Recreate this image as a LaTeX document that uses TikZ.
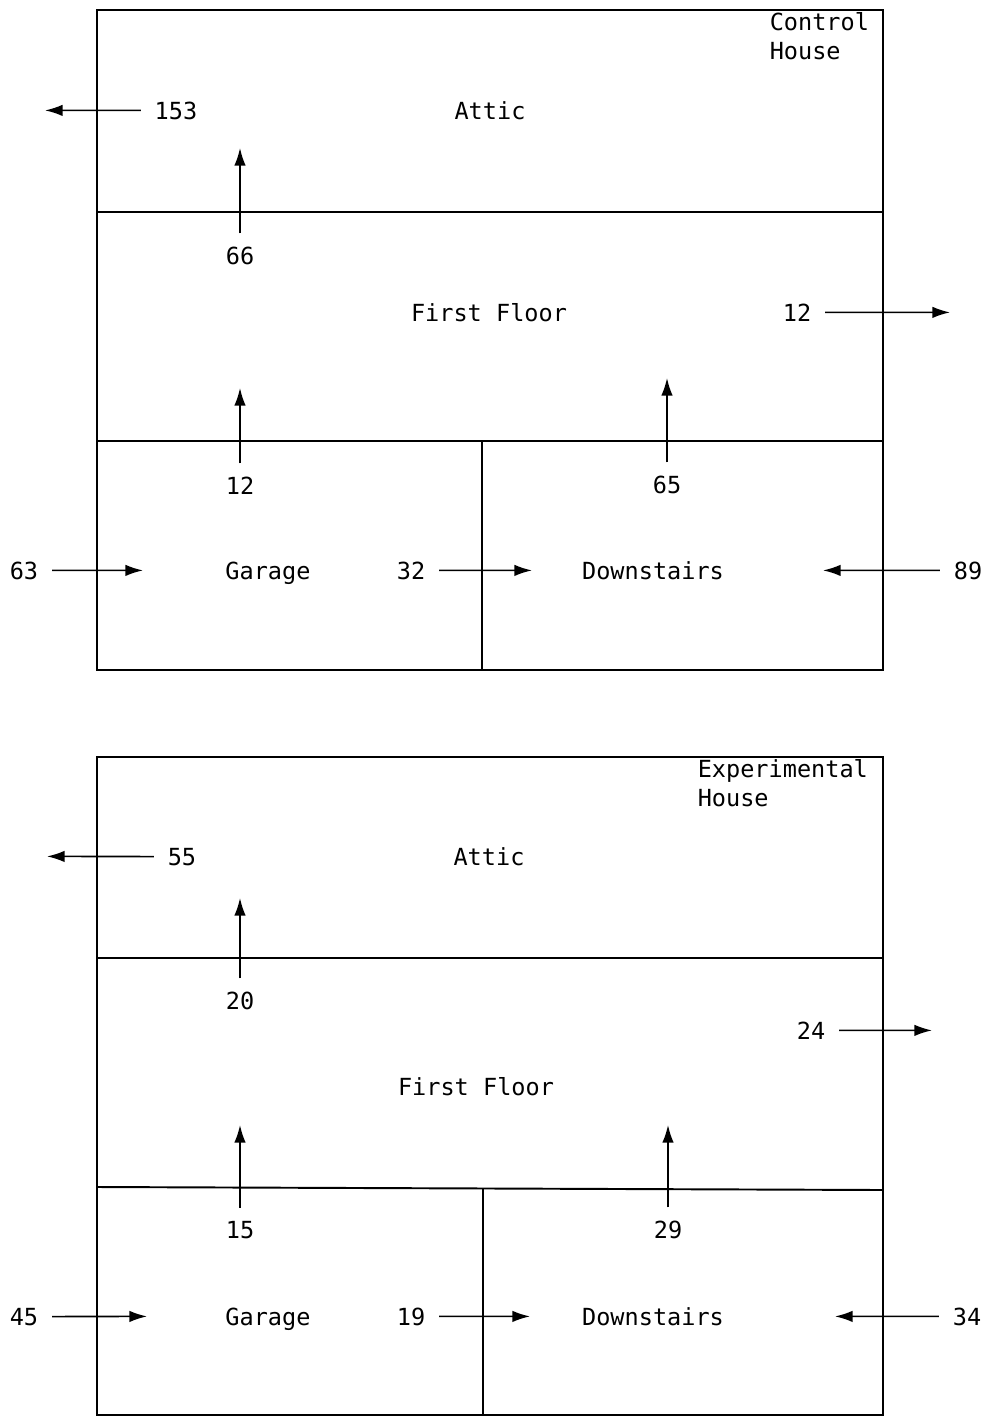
\documentclass[tikz,border=0pt]{standalone}
\usepackage{fontspec}
\setmonofont{DejaVu Sans Mono}
\usetikzlibrary{arrows.meta}
\newcommand{\plotfont}{\ttfamily\fontsize{13.4}{16.4}\selectfont}
\tikzset{
  room/.style={anchor=base,font=\plotfont},
  flux/.style={anchor=base,inner xsep=7.5pt,inner ysep=7pt,font=\plotfont},
  tag/.style={anchor=north west,align=left,inner sep=0pt,font=\plotfont},
  wall/.style={line width=1.1pt},
}

\begin{document}
\begin{tikzpicture}[x=0.02cm,y=-0.02cm,->,>={Latex[length=10pt,width=6.5pt]},line width=0.9pt]
  \useasboundingbox (0,0) rectangle (991,1417);

  % control house
  \draw[wall,-] (97,10) rectangle (883,670);
  \draw[wall,-] (97,212) -- (883,212);
  \draw[wall,-] (97,441) -- (883,441);
  \draw[wall,-] (482,441) -- (482,670);
  \node[tag] (ctrl) at (769,12) {Control\\House};
  \node[room] (atticC) at (490,119) {Attic};
  \node[room] (floorC) at (489,321) {First Floor};
  \node[room] (garageC) at (268,579) {Garage};
  \node[room] (downC) at (653,579) {Downstairs};
  \node[flux] (c153) at (176,119) {153};
  \node[flux] (c66) at (240,264) {66};
  \node[flux] (c12r) at (797,321) {12};
  \node[flux] (c12u) at (240,494) {12};
  \node[flux] (c65) at (667,493) {65};
  \node[flux] (c63) at (24,579) {63};
  \node[flux] (c32) at (411,579) {32};
  \node[flux] (c89) at (968,579) {89};
  \coordinate (t153) at (45,110.4);
  \coordinate (t66) at (240,148);
  \coordinate (t12r) at (950,312.4);
  \coordinate (t12u) at (240,388);
  \coordinate (t65) at (667,378);
  \coordinate (t63) at (143,570.4);
  \coordinate (t32) at (532,570.4);
  \coordinate (t89) at (823,570.4);
  \draw (c153) -- (t153);
  \draw (c66) -- (t66);
  \draw (c12r) -- (t12r);
  \draw (c12u) -- (t12u);
  \draw (c65) -- (t65);
  \draw (c63) -- (t63);
  \draw (c32) -- (t32);
  \draw (c89) -- (t89);

  % experimental house
  \draw[wall,-] (97,757) rectangle (883,1415);
  \draw[wall,-] (97,958) -- (883,958);
  \draw[wall,-] (97,1187) -- (883,1190);
  \draw[wall,-] (483,1188) -- (483,1415);
  \node[tag] (expt) at (697,759) {Experimental\\House};
  \node[room] (atticE) at (489,865) {Attic};
  \node[room] (floorE) at (476,1095) {First Floor};
  \node[room] (garageE) at (268,1325) {Garage};
  \node[room] (downE) at (653,1325) {Downstairs};
  \node[flux] (e55) at (182,865) {55};
  \node[flux] (e20) at (240,1009) {20};
  \node[flux] (e24) at (811,1039) {24};
  \node[flux] (e15) at (240,1238) {15};
  \node[flux] (e29) at (668,1238) {29};
  \node[flux] (e45) at (24,1325) {45};
  \node[flux] (e19) at (411,1325) {19};
  \node[flux] (e34) at (967,1325) {34};
  \coordinate (t55) at (47,856.4);
  \coordinate (t20) at (240,898);
  \coordinate (t24) at (932,1030.4);
  \coordinate (t15) at (240,1125);
  \coordinate (t29) at (668,1125);
  \coordinate (t45) at (147,1316.4);
  \coordinate (t19) at (530,1316.4);
  \coordinate (t34) at (835,1316.4);
  \draw (e55) -- (t55);
  \draw (e20) -- (t20);
  \draw (e24) -- (t24);
  \draw (e15) -- (t15);
  \draw (e29) -- (t29);
  \draw (e45) -- (t45);
  \draw (e19) -- (t19);
  \draw (e34) -- (t34);
\end{tikzpicture}
\end{document}
